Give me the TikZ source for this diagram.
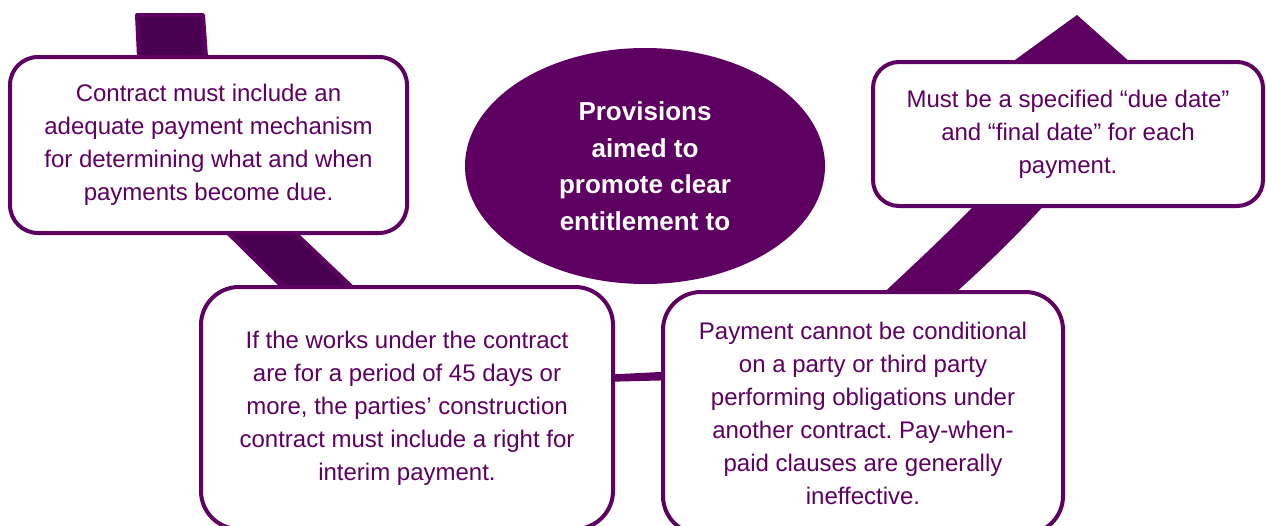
\documentclass[tikz,border=0pt]{standalone}
\usepackage{fontspec}
\setmainfont{Liberation Sans}
\usetikzlibrary{shapes.geometric}
\definecolor{pur}{RGB}{94,0,98}
\definecolor{ribdark}{RGB}{74,0,80}
\frenchspacing
\begin{document}
\begin{tikzpicture}[x=1pt,y=-1pt,
  box/.style={draw=pur, line width=4pt, fill=white, rounded corners=#1,
    text=pur, align=center, inner sep=0pt,
    font=\fontsize{24}{33}\selectfont},
  hubstyle/.style={ellipse, fill=pur, inner sep=0pt, text=white, align=center,
    font=\bfseries\fontsize{26}{36.5}\selectfont},
  darkrib/.style={draw=pur, fill=ribdark, line width=4pt, line join=round},
  lightrib/.style={fill=pur}]
\useasboundingbox (0,0) rectangle (1266,525);
\clip (0,0) rectangle (1266,525);
% left ribbon (darker)
\draw[darkrib] (137,15) -- (203,15) -- (206,57)
  .. controls (212,150) and (250,190) .. (295,233) -- (373,307)
  -- (303,307) -- (228,233)
  .. controls (180,185) and (142,150) .. (139,57) -- cycle;
% thin joining bar
\fill[lightrib] (600,375) -- (680,371) -- (680,380) -- (600,382) -- cycle;
% right ribbon with arrow head
\fill[lightrib] (853,322) .. controls (905,272) and (955,228) .. (1000,178)
  -- (1005,110) -- (946,110) -- (1077,15)
  -- (1184,110) -- (1095,110) -- (1060,187)
  .. controls (1015,240) and (970,280) .. (923,322) -- cycle;
% centre ellipse
\node[hubstyle, minimum width=360pt, minimum height=236pt] (hub) at (645,166)
  {Provisions\\aimed to\\promote clear\\entitlement to};
% boxes
\node[box=28pt, minimum width=397pt, minimum height=176pt] (b1) at (208.5,145)
  {Contract must include an\\adequate payment mechanism\\for determining what and when\\payments become due.};
\node[box=38pt, minimum width=412pt, minimum height=242pt] (b2) at (407,408)
  {If the works under the contract\\are for a period of 45 days or\\more, the parties’ construction\\contract must include a right for\\interim payment.};
\node[box=38pt, minimum width=400pt, minimum height=242pt] (b3) at (863,413)
  {Payment cannot be conditional\\on a party or third party\\performing obligations under\\another contract. Pay-when-\\paid clauses are generally\\ineffective.};
\node[box=26pt, minimum width=390pt, minimum height=144pt] (b4) at (1068,134)
  {Must be a specified “due date”\\and “final date” for each\\payment.};
\end{tikzpicture}
\end{document}
